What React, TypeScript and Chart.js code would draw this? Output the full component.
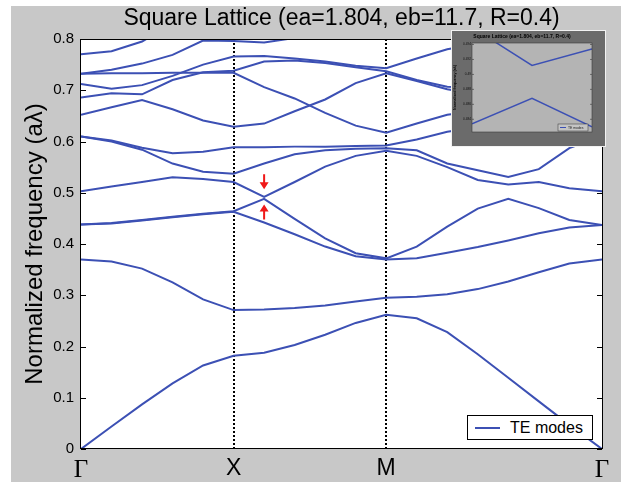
import React, { useEffect, useRef } from "react";
import { Chart, registerables } from "chart.js";

Chart.register(...registerables);

// ---------- data ----------
const TITLE = "Square Lattice (ea=1.804, eb=11.7, R=0.4)";
const Y_TITLE = "Normalized frequency (a\u03BB)";
const LEGEND_LABEL = "TE modes";

// k-path coordinate: Γ=0, X=0.5, M=1, Γ=1+√2/2
const K = [0, 0.1, 0.2, 0.3, 0.4, 0.5, 0.6, 0.7, 0.8, 0.9, 1.0, 1.1, 1.2, 1.3, 1.4, 1.5, 1.6, 1.7071];
const X_TICKS = [0, 0.5, 1.0, 1.7071];
const X_LABELS = ["\u0393", "X", "M", "\u0393"];
const Y_TICKS = [0, 0.1, 0.2, 0.3, 0.4, 0.5, 0.6, 0.7, 0.8];

const band1 = [0, 0.044, 0.087, 0.128, 0.163, 0.182, 0.188, 0.203, 0.223, 0.246, 0.262, 0.255, 0.228, 0.185, 0.139, 0.093, 0.047, 0];
const band2 = [0.370, 0.366, 0.352, 0.325, 0.292, 0.271, 0.272, 0.275, 0.280, 0.288, 0.295, 0.297, 0.302, 0.312, 0.327, 0.345, 0.362, 0.370];
const band3 = [0.438, 0.440, 0.446, 0.452, 0.458, 0.463, 0.442, 0.419, 0.395, 0.376, 0.370, 0.372, 0.383, 0.394, 0.407, 0.421, 0.432, 0.437];
const band4 = [0.438, 0.441, 0.447, 0.453, 0.459, 0.464, 0.488, 0.449, 0.411, 0.382, 0.372, 0.395, 0.434, 0.469, 0.488, 0.470, 0.447, 0.437];
const band5 = [0.503, 0.512, 0.521, 0.530, 0.527, 0.521, 0.492, 0.521, 0.551, 0.572, 0.582, 0.572, 0.550, 0.525, 0.516, 0.521, 0.509, 0.503];
const band6 = [0.610, 0.600, 0.584, 0.557, 0.541, 0.537, 0.557, 0.575, 0.583, 0.586, 0.587, 0.583, 0.557, 0.544, 0.531, 0.546, 0.587, 0.610];
const band7 = [0.610, 0.602, 0.588, 0.577, 0.580, 0.589, 0.589, 0.590, 0.590, 0.591, 0.592, 0.604, 0.619, 0.628, 0.630, 0.626, 0.618, 0.610];
const band8 = [0.652, 0.667, 0.681, 0.663, 0.641, 0.629, 0.635, 0.659, 0.682, 0.714, 0.733, 0.718, 0.702, 0.692, 0.686, 0.684, 0.683, 0.683];
const band9 = [0.732, 0.733, 0.733, 0.734, 0.734, 0.734, 0.706, 0.684, 0.656, 0.631, 0.617, 0.635, 0.652, 0.660, 0.662, 0.660, 0.655, 0.651];
const band10 = [0.686, 0.694, 0.692, 0.720, 0.735, 0.738, 0.756, 0.758, 0.753, 0.745, 0.737, 0.720, 0.707, 0.705, 0.707, 0.710, 0.713, 0.714];
const band11 = [0.712, 0.703, 0.710, 0.728, 0.750, 0.766, 0.767, 0.762, 0.756, 0.748, 0.743, 0.762, 0.780, 0.790, 0.785, 0.770, 0.750, 0.733];
const band12 = [0.732, 0.740, 0.752, 0.769, 0.797, 0.796, 0.793, 0.802, 0.830, 0.850, 0.860, 0.850, 0.830, 0.810, 0.800, 0.780, 0.760, 0.733];
const band13 = [0.770, 0.776, 0.795, 0.830, 0.850, 0.860, 0.870, 0.880, 0.880, 0.880, 0.880, 0.870, 0.850, 0.830, 0.810, 0.790, 0.780, 0.771];

const BANDS = [band1, band2, band3, band4, band5, band6, band7, band8, band9, band10, band11, band12, band13];

// red arrows marking the small gap
const ARROW_K = 0.6;
const ARROW_DOWN_TIP = 0.507;
const ARROW_UP_TIP = 0.477;

// inset (zoom on the gap)
const INSET_K = [0.59, 0.6, 0.61];
const insetUpper = [0.4963, 0.4912, 0.4934];
const insetLower = [0.4834, 0.4868, 0.483];
const INSET_Y_TICKS = [0.484, 0.486, 0.488, 0.49, 0.492, 0.494];

// ---------- styles ----------
const BLUE = "#3c50b4";
const FONT = '"Liberation Sans", Arial, Helvetica, sans-serif';
const SERIF = '"Liberation Serif", "Times New Roman", serif';
const W = 621;
const H = 482;

const mainPlugin = {
  id: "mainDecor",
  beforeDraw(chart: any) {
    const { ctx, chartArea: ca } = chart;
    ctx.save();
    ctx.fillStyle = "#ffffff";
    ctx.fillRect(0, 0, W, H);
    ctx.fillStyle = "#c8c8c8";
    ctx.fillRect(11, 6, W - 11, H - 6);
    ctx.fillStyle = "#ffffff";
    ctx.fillRect(ca.left, ca.top, ca.right - ca.left, ca.bottom - ca.top);
    ctx.restore();
  },
  afterDatasetsDraw(chart: any) {
    const { ctx, chartArea: ca, scales } = chart;
    const ys = scales.y;
    const xs = scales.x;
    ctx.save();
    ctx.strokeStyle = "#000";
    ctx.lineWidth = 1;
    ctx.strokeRect(Math.round(ca.left) - 0.5, Math.round(ca.top) + 0.5, Math.round(ca.right - ca.left) + 1, Math.round(ca.bottom - ca.top) - 1);
    ctx.beginPath();
    Y_TICKS.forEach((v) => {
      const y = Math.round(ys.getPixelForValue(v)) + 0.5;
      ctx.moveTo(ca.left, y);
      ctx.lineTo(ca.left + 5, y);
      ctx.moveTo(ca.right, y);
      ctx.lineTo(ca.right - 5, y);
    });
    ctx.stroke();

    // red arrows
    const ax = xs.getPixelForValue(ARROW_K);
    const dTip = ys.getPixelForValue(ARROW_DOWN_TIP);
    const uTip = ys.getPixelForValue(ARROW_UP_TIP);
    ctx.strokeStyle = "#f01818";
    ctx.fillStyle = "#f01818";
    ctx.lineWidth = 2;
    ctx.beginPath();
    ctx.moveTo(ax, dTip - 15);
    ctx.lineTo(ax, dTip - 6);
    ctx.moveTo(ax, uTip + 15);
    ctx.lineTo(ax, uTip + 6);
    ctx.stroke();
    ctx.beginPath();
    ctx.moveTo(ax - 4.5, dTip - 7);
    ctx.lineTo(ax + 4.5, dTip - 7);
    ctx.lineTo(ax, dTip);
    ctx.closePath();
    ctx.moveTo(ax - 4.5, uTip + 7);
    ctx.lineTo(ax + 4.5, uTip + 7);
    ctx.lineTo(ax, uTip);
    ctx.closePath();
    ctx.fill();

    // title centred over the plot box
    ctx.fillStyle = "#000";
    ctx.font = `23px ${FONT}`;
    ctx.textAlign = "center";
    ctx.textBaseline = "middle";
    ctx.fillText(TITLE, (ca.left + ca.right) / 2, 19);
    ctx.restore();
  },
};

const insetPlugin = {
  id: "insetDecor",
  beforeDraw(chart: any) {
    const { ctx, chartArea: ca, width, height } = chart;
    ctx.save();
    ctx.fillStyle = "#6b6b6b";
    ctx.fillRect(0, 0, width, height);
    ctx.fillStyle = "#b4b4b4";
    ctx.fillRect(ca.left, ca.top, ca.right - ca.left, ca.bottom - ca.top);
    ctx.restore();
  },
  afterDatasetsDraw(chart: any) {
    const { ctx, chartArea: ca, scales } = chart;
    const ys = scales.y;
    ctx.save();
    ctx.strokeStyle = "#3a3a3a";
    ctx.lineWidth = 0.6;
    ctx.strokeRect(ca.left, ca.top, ca.right - ca.left, ca.bottom - ca.top);
    ctx.beginPath();
    INSET_Y_TICKS.forEach((v) => {
      const y = ys.getPixelForValue(v);
      ctx.moveTo(ca.left, y);
      ctx.lineTo(ca.left + 2, y);
      ctx.moveTo(ca.right, y);
      ctx.lineTo(ca.right - 2, y);
    });
    ctx.stroke();
    // legend
    const lx = ca.right - 34;
    const ly = ca.bottom - 8;
    ctx.fillStyle = "#c4c4c4";
    ctx.fillRect(lx, ly, 30, 7);
    ctx.strokeStyle = "#333";
    ctx.lineWidth = 0.5;
    ctx.strokeRect(lx, ly, 30, 7);
    ctx.strokeStyle = BLUE;
    ctx.lineWidth = 1;
    ctx.beginPath();
    ctx.moveTo(lx + 2, ly + 3.5);
    ctx.lineTo(lx + 8, ly + 3.5);
    ctx.stroke();
    ctx.fillStyle = "#222";
    ctx.font = `3.4px ${FONT}`;
    ctx.textBaseline = "middle";
    ctx.fillText(LEGEND_LABEL, lx + 10, ly + 3.7);
    ctx.restore();
  },
};

export default function App() {
  const mainRef = useRef<HTMLCanvasElement | null>(null);
  const insetRef = useRef<HTMLCanvasElement | null>(null);

  useEffect(() => {
    if (!mainRef.current || !insetRef.current) return;

    const datasets = BANDS.map((b, i) => ({
      label: i === 0 ? LEGEND_LABEL : `band ${i + 1}`,
      data: K.map((k, j) => ({ x: k, y: b[j] })),
      borderColor: BLUE,
      backgroundColor: BLUE,
      borderWidth: 2,
      pointRadius: 0,
      fill: false,
      tension: 0,
    }));

    const main = new Chart(mainRef.current, {
      type: "line",
      data: { datasets },
      options: {
        animation: false,
        responsive: false,
        devicePixelRatio: 1,
        events: [],
        layout: { padding: { left: 0, right: 19, top: 39, bottom: 0 } },
        plugins: {
          legend: { display: false },
          tooltip: { enabled: false },
          title: { display: false },
        },
        scales: {
          x: {
            type: "linear",
            min: 0,
            max: 1.7071,
            afterBuildTicks: (s: any) => {
              s.ticks = X_TICKS.map((v) => ({ value: v }));
            },
            afterFit: (s: any) => {
              s.height = 33;
            },
            ticks: {
              autoSkip: false,
              maxRotation: 0,
              padding: 6,
              color: "#000",
              callback: (_v: any, i: number) => X_LABELS[i],
              font: (ctx: any) =>
                ctx.index === 0 || ctx.index === 3
                  ? { family: SERIF, size: 25 }
                  : { family: FONT, size: 23 },
            },
            grid: {
              color: (ctx: any) => (ctx.index === 1 || ctx.index === 2 ? "#000" : "rgba(0,0,0,0)"),
              lineWidth: 2,
              drawTicks: false,
            },
            border: { display: false, dash: [2, 2] },
          },
          y: {
            type: "linear",
            min: 0,
            max: 0.8,
            afterBuildTicks: (s: any) => {
              s.ticks = Y_TICKS.map((v) => ({ value: v }));
            },
            afterFit: (s: any) => {
              s.width = 81;
            },
            ticks: {
              padding: 7,
              color: "#000",
              font: { family: FONT, size: 15 },
              callback: (v: any) => String(v),
            },
            grid: { display: false, drawTicks: false },
            border: { display: false },
            title: {
              display: true,
              text: Y_TITLE,
              color: "#000",
              font: { family: FONT, size: 24 },
              padding: { top: 21, bottom: 0 },
            },
          },
        },
      },
      plugins: [mainPlugin],
    } as any);

    const inset = new Chart(insetRef.current, {
      type: "line",
      data: {
        datasets: [
          {
            label: LEGEND_LABEL,
            data: INSET_K.map((k, j) => ({ x: k, y: insetUpper[j] })),
            borderColor: BLUE,
            borderWidth: 1.5,
            pointRadius: 0,
            fill: false,
          },
          {
            label: "lower",
            data: INSET_K.map((k, j) => ({ x: k, y: insetLower[j] })),
            borderColor: BLUE,
            borderWidth: 1.5,
            pointRadius: 0,
            fill: false,
          },
        ],
      },
      options: {
        animation: false,
        responsive: false,
        devicePixelRatio: 1,
        events: [],
        layout: { padding: { left: 0, right: 13, top: 0, bottom: 14 } },
        plugins: {
          legend: { display: false },
          tooltip: { enabled: false },
          title: {
            display: true,
            text: TITLE,
            color: "#000",
            font: { family: FONT, size: 5, weight: "bold" },
            padding: { top: 3, bottom: 3 },
          },
        },
        scales: {
          x: { type: "linear", display: false, min: 0.59, max: 0.61 },
          y: {
            type: "linear",
            min: 0.4823,
            max: 0.4942,
            afterBuildTicks: (s: any) => {
              s.ticks = INSET_Y_TICKS.map((v) => ({ value: v }));
            },
            afterFit: (s: any) => {
              s.width = 20;
            },
            ticks: {
              padding: 1,
              color: "#111",
              font: { family: FONT, size: 3.2 },
              callback: (v: any) => String(v),
            },
            grid: { display: false, drawTicks: false },
            border: { display: false },
            title: {
              display: true,
              text: Y_TITLE,
              color: "#000",
              font: { family: FONT, size: 3.6, weight: "bold" },
              padding: { top: 1, bottom: 0 },
            },
          },
        },
      },
      plugins: [insetPlugin],
    } as any);

    return () => {
      main.destroy();
      inset.destroy();
    };
  }, []);

  return (
    <div style={{ position: "absolute", left: 0, top: 0, width: W, height: H, background: "#fff" }}>
      <canvas
        ref={mainRef}
        width={W}
        height={H}
        style={{ position: "absolute", left: 0, top: 0, width: W, height: H, display: "block" }}
      />
      <div
        style={{
          position: "absolute",
          left: 451,
          top: 30,
          width: 155,
          height: 117,
          background: "#f2f2f2",
        }}
      >
        <canvas
          ref={insetRef}
          width={153}
          height={115}
          style={{ position: "absolute", left: 1, top: 1, width: 153, height: 115, display: "block" }}
        />
      </div>
      <div
        style={{
          position: "absolute",
          left: 467,
          top: 415,
          width: 126,
          height: 25,
          boxSizing: "border-box",
          border: "1px solid #000",
          background: "#fff",
        }}
      >
        <div style={{ position: "absolute", left: 7, top: 10.5, width: 25, height: 2, background: BLUE }} />
        <div
          style={{
            position: "absolute",
            left: 42,
            top: 2,
            fontFamily: FONT,
            fontSize: 16,
            lineHeight: "20px",
            color: "#000",
            whiteSpace: "nowrap",
          }}
        >
          {LEGEND_LABEL}
        </div>
      </div>
    </div>
  );
}
